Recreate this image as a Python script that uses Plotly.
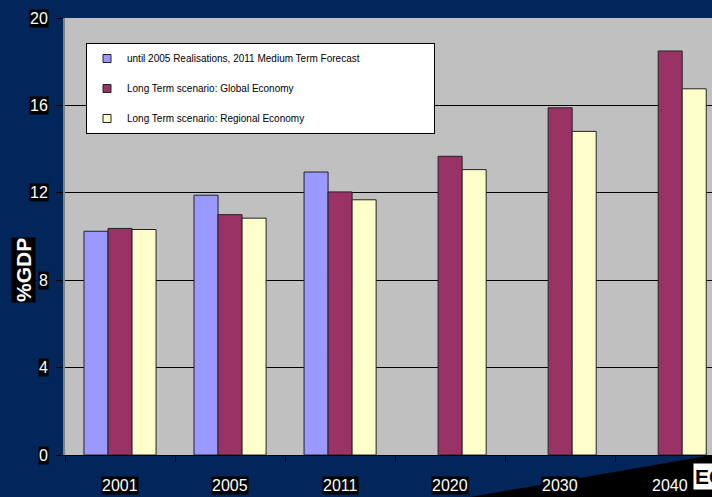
import plotly.graph_objects as go

years = ['2001', '2005', '2011', '2020', '2030', '2040']
realised = [10.24, 11.89, 12.95, None, None, None]
global_econ = [10.37, 11.0, 12.04, 13.67, 15.89, 18.49]
regional = [10.32, 10.84, 11.68, 13.06, 14.81, 16.76]
y_ticks = [0, 4, 8, 12, 16, 20]

names = ['until 2005 Realisations, 2011 Medium Term Forecast',
         'Long Term scenario: Global Economy',
         'Long Term scenario: Regional Economy']
colors = ['#9999FF', '#993366', '#FFFFCC']

W, H = 712, 497
L, T, B, R = 65, 18, 42, 0

fig = go.Figure()
for i, (vals, name, col) in enumerate(zip([realised, global_econ, regional], names, colors)):
    fig.add_trace(go.Bar(x=years, y=vals, name=name, showlegend=False,
                         marker=dict(color=col, line=dict(color='#222222', width=1))))
pad = '\u00a0' * 25
for i, (name, col) in enumerate(zip(names, colors)):
    fig.add_trace(go.Scatter(x=[None], y=[None], mode='markers', name=name + (pad if i == 0 else ''),
                             legendgroup=f'g{i}',
                             marker=dict(symbol='square', size=8, color=col, line=dict(color='#222222', width=1))))

pw, ph = W - L - R, H - T - B
def px(xp): return (xp - L) / pw
def py(yp): return (H - B - yp) / ph

annotations = []
for v in y_ticks:
    annotations.append(dict(x=0, xref='paper', y=v, yref='y', text=str(v), showarrow=False,
                            xanchor='right', yanchor='middle', xshift=-16,
                            font=dict(family='Liberation Sans, Arial', size=16, color='white'),
                            bgcolor='black', borderpad=0))
for i, yr in enumerate(years):
    annotations.append(dict(x=i, xref='x', y=0, yref='paper', text=yr, showarrow=False,
                            xanchor='center', yanchor='top', yshift=-21,
                            font=dict(family='Liberation Sans, Arial', size=16, color='white'),
                            bgcolor='black', borderpad=0))
annotations.append(dict(x=px(23), xref='paper', y=py(270), yref='paper', text='<b>%GDP</b>', showarrow=False,
                        textangle=-90, xanchor='center', yanchor='middle',
                        font=dict(family='Liberation Sans, Arial', size=21, color='white'),
                        bgcolor='black', borderpad=0))
annotations.append(dict(x=px(693), xref='paper', y=py(463), yref='paper',
                        text='<b>EC</b>', showarrow=False, xanchor='left', yanchor='top',
                        font=dict(family='Liberation Sans, Arial', size=21, color='black'),
                        bgcolor='white', borderpad=1))

shapes = [dict(type='path', xref='paper', yref='paper',
               path=f'M {px(470)} {py(497)} L {px(712)} {py(455)} L {px(712)} {py(497)} Z',
               fillcolor='black', line=dict(width=0), layer='below')]

fig.update_layout(
    width=W, height=H,
    margin=dict(l=L, r=R, t=T, b=B),
    paper_bgcolor='#02265A',
    plot_bgcolor='#C0C0C0',
    barmode='group', bargap=0.345, bargroupgap=0,
    font=dict(family='Liberation Sans, Arial', color='black'),
    legend=dict(x=px(86), y=py(43), xanchor='left', yanchor='top',
                bgcolor='white', bordercolor='black', borderwidth=1,
                font=dict(size=10, color='black'), traceorder='grouped', tracegroupgap=11,
                itemclick=False, itemwidth=30),
    xaxis=dict(type='category', range=[-0.5, 5.38], showticklabels=False, tickson='boundaries',
               ticks='outside', ticklen=6, tickcolor='black', showline=True, linecolor='black',
               linewidth=1, showgrid=False, zeroline=False),
    yaxis=dict(range=[0, 20], tickvals=y_ticks, showticklabels=False, ticks='outside', ticklen=7,
               tickcolor='black', showgrid=True, gridcolor='black', gridwidth=1,
               showline=True, linecolor='#808080', linewidth=2, zeroline=False),
    annotations=annotations,
    shapes=shapes,
)

fig.write_html('out.html', config={'displayModeBar': False},
               post_script="document.body.style.margin='0';document.body.style.overflow='hidden';")
